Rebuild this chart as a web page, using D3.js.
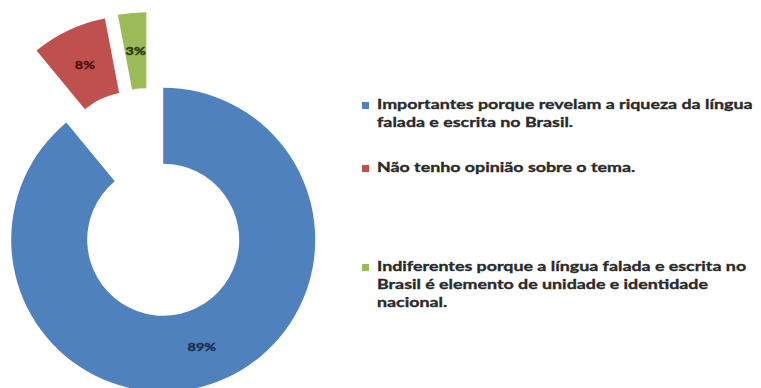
<!DOCTYPE html>
<html>
<head>
<meta charset="utf-8">
<script src="https://cdn.jsdelivr.net/npm/d3@7"></script>
<style>
  html, body { margin: 0; padding: 0; background: #fff; }
  svg { display: block; }
</style>
</head>
<body>
<svg id="chart" width="761" height="388"></svg>
<script>
// Survey answers and their shares (%)
const categories = [
  "Importantes porque revelam a riqueza da língua falada e escrita no Brasil.",
  "Não tenho opinião sobre o tema.",
  "Indiferentes porque a língua falada e escrita no Brasil é elemento de unidade e identidade nacional."
];
const values = [89, 8, 3];
const valueLabels = ["89%", "8%", "3%"];
// Legend text broken into lines as laid out beside the doughnut
const legendLines = [
  ["Importantes porque revelam a riqueza da língua", "falada e escrita no Brasil."],
  ["Não tenho opinião sobre o tema."],
  ["Indiferentes porque a língua falada e escrita no", "Brasil é elemento de unidade e identidade", "nacional."]
];
const colors = ["#4f81bd", "#c0504d", "#9bbb59"];
const labelColors = ["#1c2f52", "#4e1210", "#27360e"];

const svg = d3.select("#chart");
const cx = 150, cy = 203;
const outerR = 152, innerR = 76, explode = 39;

const color = d3.scaleOrdinal().domain(categories).range(colors);

const pie = d3.pie().sort(null).value(d => d.value);
const arcs = pie(categories.map((c, i) => ({ cat: c, value: values[i], label: valueLabels[i], i })));

const arc = d3.arc().innerRadius(innerR).outerRadius(outerR);
const labelArc = d3.arc().innerRadius((innerR + outerR) / 2).outerRadius((innerR + outerR) / 2);

const g = svg.append("g").attr("transform", `translate(${cx},${cy})`);

// Every slice is pulled out along its bisector
function offset(d) {
  const a = (d.startAngle + d.endAngle) / 2;
  return [Math.sin(a) * explode, -Math.cos(a) * explode];
}

const slice = g.selectAll("g.slice").data(arcs).join("g")
  .attr("class", "slice")
  .attr("transform", d => { const [x, y] = offset(d); return `translate(${x},${y})`; });

slice.append("path")
  .attr("d", arc)
  .attr("fill", d => color(d.data.cat));

slice.append("text")
  .attr("transform", d => `translate(${labelArc.centroid(d)}) scale(1.2,1)`)
  .attr("text-anchor", "middle")
  .attr("dy", "0.35em")
  .attr("font-family", "Lato, 'Open Sans', sans-serif")
  .attr("font-weight", 700)
  .attr("font-size", 12)
  .attr("fill", d => labelColors[d.data.i])
  .attr("stroke", d => labelColors[d.data.i])
  .attr("stroke-width", 0.4)
  .text(d => d.data.label);

// Legend
const legendX = 362, textX = 377;
const legendTops = [109, 172, 271];
const lineH = 18;
const legend = svg.append("g");

categories.forEach((c, i) => {
  legend.append("rect")
    .attr("x", legendX).attr("y", legendTops[i] - 7)
    .attr("width", 7).attr("height", 7)
    .attr("fill", color(c));
  const t = legend.append("g").attr("class", "ltext")
    .attr("transform", `translate(${textX},0)`);
  legendLines[i].forEach((line, j) => {
    t.append("text")
      .attr("x", 0).attr("y", legendTops[i] + j * lineH)
      .attr("font-family", "Lato, 'Open Sans', sans-serif")
      .attr("font-weight", 700)
      .attr("font-size", 14)
      .attr("fill", "#2a2a2a")
      .attr("stroke", "#2a2a2a")
      .attr("stroke-width", 0.35)
      .text(line);
  });
});

// Stretch legend text horizontally so the first line spans to x≈753
const first = legend.select("g.ltext text").node();
const w = first.getComputedTextLength();
const sx = (753 - textX) / w;
legend.selectAll("g.ltext").attr("transform", `translate(${textX},0) scale(${sx},1)`);
</script>
</body>
</html>
